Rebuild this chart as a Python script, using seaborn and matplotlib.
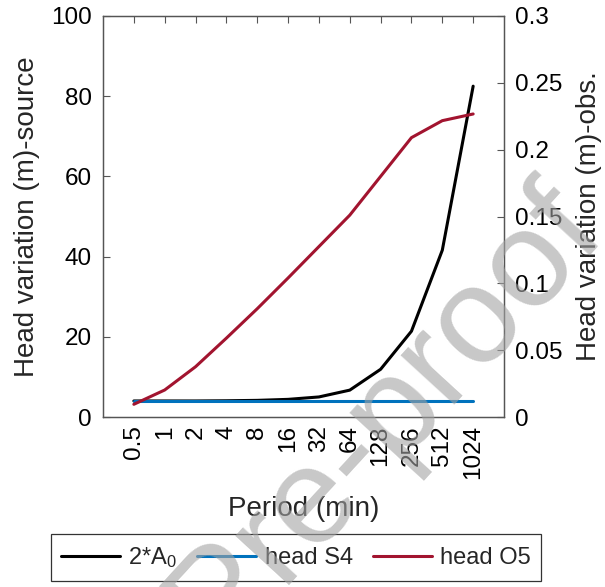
import numpy as np
import pandas as pd
import matplotlib
matplotlib.use("Agg")
import matplotlib.pyplot as plt
import seaborn as sns

periods = ["0.5", "1", "2", "4", "8", "16", "32", "64", "128", "256", "512", "1024"]
two_a0 = [4.0, 4.0, 4.0, 4.05, 4.15, 4.4, 5.0, 6.7, 11.9, 21.4, 41.6, 82.5]
head_s4 = [4.0] * 12
head_o5 = [0.0095, 0.0202, 0.0376, 0.059, 0.081, 0.104, 0.1275, 0.151, 0.180, 0.209, 0.2217, 0.2267]

sns.set_theme(style="white")
plt.rcParams["font.family"] = ["Liberation Sans", "DejaVu Sans"]
plt.rcParams["mathtext.fontset"] = "custom"
plt.rcParams["mathtext.rm"] = "Liberation Sans"
plt.rcParams["mathtext.it"] = "Liberation Sans"

df = pd.DataFrame({"pos": np.arange(len(periods)), "a0": two_a0, "s4": head_s4, "o5": head_o5})

W, H = 605, 587
fig = plt.figure(figsize=(W / 100, H / 100), dpi=100)
ax = fig.add_axes([103/W, 1-417/H, (504-103)/W, (417-16)/H])
ax2 = ax.twinx()

black = "#000000"
blue = "#0072BD"
red = "#A2142F"
lw = 2.2

sns.lineplot(data=df, x="pos", y="a0", ax=ax, color=black, lw=lw, label="2*A$_0$", legend=False)
sns.lineplot(data=df, x="pos", y="s4", ax=ax, color=blue, lw=lw, label="head S4", legend=False)
sns.lineplot(data=df, x="pos", y="o5", ax=ax2, color=red, lw=lw, label="head O5", legend=False)

ax.set_xlim(-1, len(periods))
ax.set_ylim(0, 100)
ax2.set_ylim(0, 0.3)
ax.set_xticks(np.arange(len(periods)))
ax.set_xticklabels(periods, rotation=90)
ax.set_yticks([0, 20, 40, 60, 80, 100])
ax2.set_yticks([0, 0.05, 0.1, 0.15, 0.2, 0.25, 0.3])
ax2.set_yticklabels(["0", "0.05", "0.1", "0.15", "0.2", "0.25", "0.3"])

spc = "#555555"
for a in (ax, ax2):
    for s in a.spines.values():
        s.set_color(spc)
        s.set_linewidth(0.9)
ax.tick_params(axis="x", direction="in", length=5, width=0.8, color=spc, top=True, labelsize=17.5, pad=6, labelcolor="black")
ax.tick_params(axis="y", direction="in", length=5, width=0.8, color=spc, left=True, right=False, labelsize=17.5, pad=8, labelcolor="black")
ax2.tick_params(axis="y", direction="in", length=5, width=0.8, color=spc, right=True, left=False, labelsize=17.5, pad=8, labelcolor="black")
ax2.tick_params(axis="x", top=False, bottom=False)

ax.set_xlabel("Period (min)", fontsize=20, labelpad=12)
ax.set_ylabel("Head variation (m)-source", fontsize=20, labelpad=8)
ax2.set_ylabel("Head variation (m)-obs.", fontsize=20, labelpad=10)

h1, l1 = ax.get_legend_handles_labels()
h2, l2 = ax2.get_legend_handles_labels()
leg = fig.legend(h1 + h2, l1 + l2, loc="center", bbox_to_anchor=(296/W, 1-557.5/H), ncol=3,
                 fontsize=17, frameon=True, fancybox=False, edgecolor="black", handlelength=2.5,
                 handletextpad=0.35, columnspacing=0.85, borderpad=0.45)
leg.get_frame().set_linewidth(0.9)

fig.text(218/W, 1-650/H, "Pre-proof", fontsize=99, rotation=47.5, ha="left", va="baseline",
         color=(0.64, 0.64, 0.64), alpha=0.6, rotation_mode="anchor", zorder=100)

fig.savefig("out.png", dpi=100)
